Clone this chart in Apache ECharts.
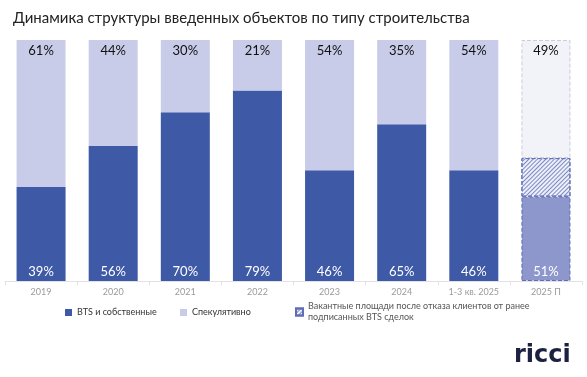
<!DOCTYPE html>
<html>
<head>
<meta charset="utf-8">
<script src="https://cdn.jsdelivr.net/npm/echarts@6/dist/echarts.min.js"></script>
<style>
  html, body { margin: 0; padding: 0; background: #fff; }
  #chart { width: 587px; height: 377px; }
</style>
</head>
<body>
<div id="chart"></div>
<script>
// данные
var categories = ['2019', '2020', '2021', '2022', '2023', '2024', '1-3 кв. 2025', '2025 П'];
var btsValues = [39, 56, 70, 79, 46, 65, 46, 35];
var vacantValues = [0, 0, 0, 0, 0, 0, 0, 16];
var specValues = [61, 44, 30, 21, 54, 35, 54, 49];
var btsLabels = [39, 56, 70, 79, 46, 65, 46, 51];

var lastIdx = categories.length - 1;

var myChart = echarts.init(document.getElementById('chart'));

var btsData = btsValues.map(function (v, i) {
    if (i !== lastIdx) return v;
    return {
        value: v,
        itemStyle: { color: '#8D97CB', borderColor: '#5F6EB3', borderType: 'dashed', borderWidth: 1 }
    };
});
var vacantData = vacantValues.map(function (v, i) {
    return i === lastIdx ? v : '-';
});
var specData = specValues.map(function (v, i) {
    if (i !== lastIdx) return v;
    return {
        value: v,
        itemStyle: { color: '#F2F3F9', borderColor: '#C9CCDF', borderType: 'dashed', borderWidth: 1 }
    };
});

var option = {
    backgroundColor: '#fff',
    textStyle: { fontFamily: 'Lato' },
    title: {
        text: 'Динамика структуры введенных объектов по типу строительства',
        left: 8,
        top: 6,
        textStyle: { fontFamily: 'Lato', fontSize: 15, fontWeight: 'normal', color: '#222' }
    },
    legend: [
        {
            data: ['BTS и собственные'],
            left: 60, top: 303,
            icon: 'rect', itemWidth: 7, itemHeight: 7, itemGap: 4,
            textStyle: { fontSize: 9, color: '#333' }
        },
        {
            data: ['Спекулятивно'],
            left: 175, top: 303,
            icon: 'rect', itemWidth: 7, itemHeight: 7, itemGap: 4,
            textStyle: { fontSize: 9, color: '#333' }
        },
        {
            data: ['Вакантные площади после отказа клиентов от ранее\nподписанных BTS сделок'],
            left: 290, top: 296,
            icon: 'rect', itemWidth: 7, itemHeight: 7, itemGap: 4,
            textStyle: { fontSize: 9, color: '#555', lineHeight: 11 }
        }
    ],
    grid: { left: 5, right: 5, top: 40, bottom: 96 },
    xAxis: {
        type: 'category',
        data: categories,
        axisLine: { lineStyle: { color: '#E2E2E2' } },
        axisTick: { show: true, length: 4, lineStyle: { color: '#E2E2E2' } },
        axisLabel: { color: '#9A9A9A', fontSize: 9, margin: 7 }
    },
    yAxis: { type: 'value', min: 0, max: 100, show: false },
    series: [
        {
            name: 'BTS и собственные',
            type: 'bar',
            stack: 'total',
            barWidth: 49,
            data: btsData,
            itemStyle: { color: '#3E5AA6' },
            label: {
                show: true,
                position: 'insideBottom',
                distance: 3,
                color: '#fff',
                fontSize: 13,
                formatter: function (p) { return btsLabels[p.dataIndex] + '%'; }
            }
        },
        {
            name: 'Вакантные площади после отказа клиентов от ранее\nподписанных BTS сделок',
            type: 'bar',
            stack: 'total',
            barWidth: 49,
            data: vacantData,
            itemStyle: {
                color: '#EEF0F8',
                borderColor: '#5F6EB3',
                borderType: 'dashed',
                borderWidth: 1,
                decal: {
                    symbol: 'rect',
                    color: '#7D89C6',
                    dashArrayX: [1, 0],
                    dashArrayY: [1, 1.6],
                    rotation: -Math.PI / 4
                }
            }
        },
        {
            name: 'Спекулятивно',
            type: 'bar',
            stack: 'total',
            barWidth: 49,
            data: specData,
            itemStyle: { color: '#C9CCE8' },
            label: {
                show: true,
                position: 'insideTop',
                distance: 4,
                color: '#111',
                fontSize: 13,
                formatter: '{c}%'
            }
        }
    ],
    graphic: [
        {
            type: 'text',
            left: 514,
            top: 344,
            style: { text: 'ricci', fontFamily: 'DejaVu Sans', fontSize: 24, fontWeight: 'bold', fill: '#1C2140' }
        }
    ]
};

myChart.setOption(option);
</script>
</body>
</html>
